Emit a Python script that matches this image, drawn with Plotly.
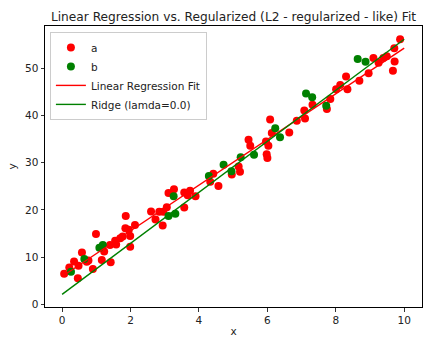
import plotly.graph_objects as go

# red points "a"
a_x = [0.06, 0.21, 0.35, 0.46, 0.48, 0.58, 0.72, 0.77, 0.90, 0.99, 1.16, 1.23, 1.40, 1.42,
       1.55, 1.58, 1.70, 1.77, 1.86, 1.85, 1.95, 1.99, 1.99, 2.13, 2.60, 2.73, 2.84, 2.94,
       2.96, 3.06, 3.11, 3.27, 3.57, 3.57, 3.67, 3.74, 3.90, 4.33, 4.42, 4.57, 4.96, 5.16,
       5.20, 5.45, 5.50, 5.96, 5.98, 6.00, 6.03, 6.13, 6.08, 6.64, 6.86, 7.08, 7.10, 7.32,
       7.74, 7.84, 8.01, 8.13, 8.30, 8.34, 8.69, 8.96, 9.10, 9.25, 9.39, 9.49, 9.72, 9.67,
       9.71, 9.88]
a_y = [6.5, 7.8, 9.1, 5.5, 8.2, 11.0, 9.0, 9.3, 7.5, 14.9, 9.4, 11.2, 12.6, 8.9,
       13.5, 12.7, 14.0, 14.4, 18.7, 16.1, 15.8, 14.5, 12.2, 16.8, 19.7, 18.0, 19.6, 16.7,
       19.6, 20.6, 23.6, 24.4, 20.5, 23.7, 23.1, 24.1, 22.9, 26.0, 27.7, 25.1, 27.5, 29.2,
       28.1, 34.9, 33.6, 34.5, 31.8, 31.0, 33.6, 36.3, 39.2, 36.4, 38.9, 41.1, 39.4, 42.3,
       41.4, 43.5, 45.6, 46.5, 48.3, 45.6, 47.4, 49.0, 52.2, 51.2, 52.2, 52.6, 51.5, 49.5,
       54.3, 56.2]

# green points "b"
b_x = [0.26, 0.65, 1.09, 1.19, 3.11, 3.31, 3.26, 4.29, 4.72, 4.95, 5.22, 5.61, 6.23, 6.37,
       7.13, 7.31, 7.72, 8.64, 8.87]
b_y = [6.9, 9.6, 12.0, 12.6, 18.7, 19.2, 22.9, 27.2, 29.6, 28.2, 31.2, 31.7, 37.3, 35.4,
       44.7, 43.9, 42.1, 52.0, 51.4]

# fitted lines (endpoints)
fit_x = [0.0, 10.0]
lr_y = [5.9, 54.3]
ridge_y = [2.1, 56.2]

font = "DejaVu Sans"
fig = go.Figure()
fig.add_trace(go.Scatter(x=a_x, y=a_y, mode="markers", name="a",
                         marker=dict(color="#ff0000", size=8, line=dict(width=0))))
fig.add_trace(go.Scatter(x=b_x, y=b_y, mode="markers", name="b",
                         marker=dict(color="#008000", size=8, line=dict(width=0))))
fig.add_trace(go.Scatter(x=fit_x, y=lr_y, mode="lines", name="Linear Regression Fit",
                         line=dict(color="#ff0000", width=1.4)))
fig.add_trace(go.Scatter(x=fit_x, y=ridge_y, mode="lines", name="Ridge (lamda=0.0)",
                         line=dict(color="#008000", width=1.4)))

axis_common = dict(showgrid=False, zeroline=False, showline=True, linecolor="black",
                   linewidth=1, mirror=True, ticks="outside", ticklen=3.5, tickwidth=0.8,
                   tickcolor="black", automargin=False,
                   tickfont=dict(family=font, size=10.5, color="#222222"))

fig.update_layout(
    width=423, height=338,
    margin=dict(l=45, r=1, t=26, b=31),
    paper_bgcolor="white", plot_bgcolor="white",
    font=dict(family=font, size=10.5, color="#222222"),
    title=dict(text="Linear Regression vs. Regularized (L2 - regularized - like) Fit",
               x=0.5, xref="paper", y=0.95, yref="container", xanchor="center",
               yanchor="middle",
               font=dict(family=font, size=12.2, color="#222222")),
    xaxis=dict(range=[-0.5, 10.52], tickvals=[0, 2, 4, 6, 8, 10],
               title=dict(text="x", standoff=2, font=dict(size=10.5)), **axis_common),
    yaxis=dict(range=[-0.57, 59.0], tickvals=[0, 10, 20, 30, 40, 50],
               title=dict(text="y", standoff=6, font=dict(size=10.5)), **axis_common),
    legend=dict(x=0.013, y=0.979, xanchor="left", yanchor="top",
                bgcolor="rgba(255,255,255,0.8)", bordercolor="#cccccc", borderwidth=1,
                font=dict(family=font, size=10.5, color="#222222"), tracegroupgap=0,
                itemwidth=30),
    showlegend=True,
)

fig.write_html("out.html",
               config={"displayModeBar": False, "staticPlot": True},
               post_script="document.body.style.margin='0';document.body.style.overflow='hidden';")
